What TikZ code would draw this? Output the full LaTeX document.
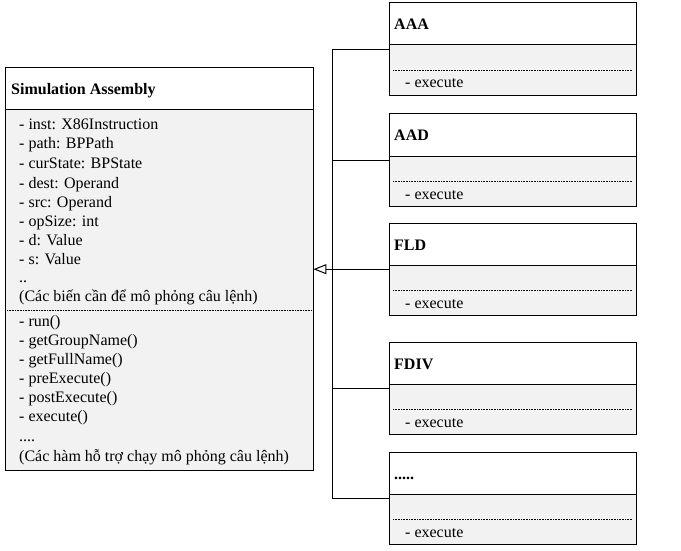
\documentclass[tikz,border=0pt]{standalone}
\usepackage{fontspec}
\setmainfont{Liberation Serif}
\usetikzlibrary{arrows.meta}
\definecolor{bodygray}{HTML}{F2F2F2}
\tikzset{
  cls/.style={draw=none, inner sep=0pt, anchor=north west},
  sep/.style={line width=1pt},
  dotsep/.style={line width=0.7pt, dash pattern=on 0.8pt off 0.8pt},
  item/.style={anchor=base west, inner sep=0pt, font=\fontsize{16}{19}\selectfont},
  ctitle/.style={anchor=base west, inner sep=0pt, font=\fontsize{16}{19}\selectfont\bfseries},
  conn/.style={line width=1pt},
}
\newcommand\subcls[3]{%
  \node[cls, minimum width=247pt, minimum height=92pt] (#1) at (389,#2) {};
  \fill[bodygray] ([yshift=-42pt]#1.north west) rectangle (#1.south east);
  \draw[sep] ([yshift=-42pt]#1.north west) -- ([yshift=-42pt]#1.north east);
  \draw[dotsep] ([xshift=4pt,yshift=-67pt]#1.north west) -- ([xshift=-4pt,yshift=-67pt]#1.north east);
  \draw[sep] (#1.north west) rectangle (#1.south east);
  \node[ctitle] (#1-t) at ([xshift=5pt,yshift=-27pt]#1.north west) {#3};
  \node[item] (#1-m) at ([xshift=16pt,yshift=-85pt]#1.north west) {- execute};
}
\begin{document}
\begin{tikzpicture}[x=1pt,y=-1pt]
\useasboundingbox[fill=white] (0,0) rectangle (681,551);
% main class
\node[cls, minimum width=308pt, minimum height=402pt] (sim) at (5,68) {};
\fill[bodygray] ([yshift=-42pt]sim.north west) rectangle (sim.south east);
\draw[sep] ([yshift=-42pt]sim.north west) -- ([yshift=-42pt]sim.north east);
\draw[dotsep] ([xshift=2pt,yshift=-242pt]sim.north west) -- ([xshift=-2pt,yshift=-242pt]sim.north east);
\draw[sep] (sim.north west) rectangle (sim.south east);
\node[ctitle] (simt) at (11,95) {Simulation Assembly};
\node[item] (a1) at (19,130) {- inst: X86Instruction};
\node[item] (a2) at (19,149) {- path: BPPath};
\node[item] (a3) at (19,168) {- curState: BPState};
\node[item] (a4) at (19,188) {- dest: Operand};
\node[item] (a5) at (19,207) {- src: Operand};
\node[item] (a6) at (19,226) {- opSize: int};
\node[item] (a7) at (19,245) {- d: Value};
\node[item] (a8) at (19,264) {- s: Value};
\node[item] (a9) at (19,282) {..};
\node[item] (a10) at (19,301) {(Các biến cần để mô phỏng câu lệnh)};
\node[item] (m1) at (19,326) {- run()};
\node[item] (m2) at (19,345) {- getGroupName()};
\node[item] (m3) at (19,364) {- getFullName()};
\node[item] (m4) at (19,383) {- preExecute()};
\node[item] (m5) at (19,402) {- postExecute()};
\node[item] (m6) at (19,421) {- execute()};
\node[item] (m7) at (19,441) {....};
\node[item] (m8) at (19,461) {(Các hàm hỗ trợ chạy mô phỏng câu lệnh)};
% subclasses
\subcls{aaa}{3}{AAA}
\subcls{aad}{114}{AAD}
\subcls{fld}{223}{FLD}
\subcls{fdiv}{342}{FDIV}
\subcls{more}{452}{.....}
% connectors
\coordinate (trunk) at (332,269);
\draw[conn] (aaa.west) -- (aaa.west -| trunk) -- (more.west -| trunk) -- (more.west);
\draw[conn] (aad.west) -- (aad.west -| trunk);
\draw[conn] (fdiv.west) -- (fdiv.west -| trunk);
\draw[conn, -{Triangle[open, length=13pt, width=10pt, line width=1pt]}] (fld.west) -- (sim.east);
\end{tikzpicture}
\end{document}
